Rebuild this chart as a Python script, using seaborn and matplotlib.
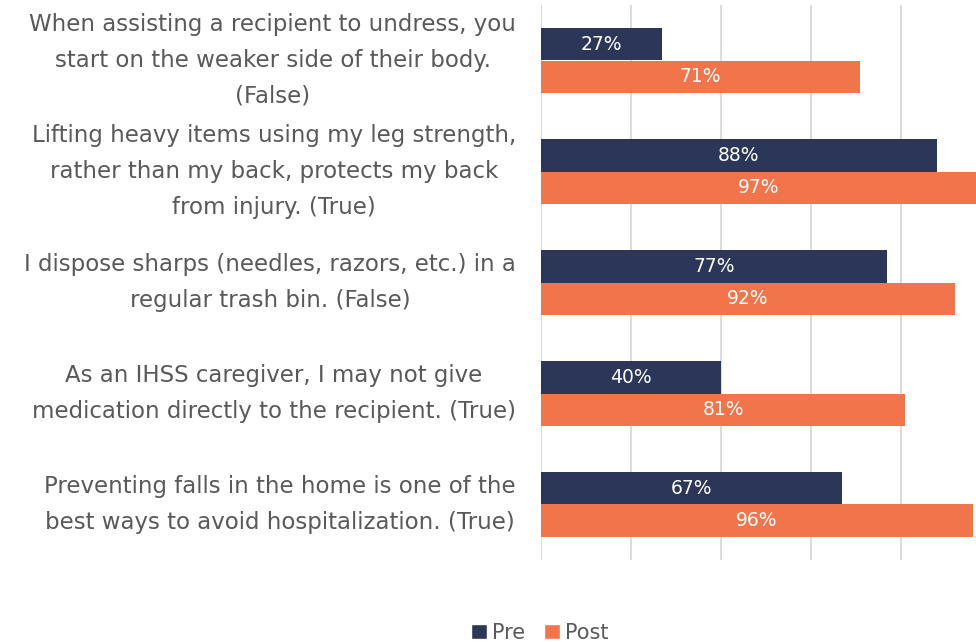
import pandas as pd
import matplotlib.pyplot as plt
import seaborn as sns
from matplotlib.patches import Patch

# Données
questions = [
    "When assisting a recipient to undress, you\nstart on the weaker side of their body.\n(False)",
    "Lifting heavy items using my leg strength,\nrather than my back, protects my back\nfrom injury. (True)",
    "I dispose sharps (needles, razors, etc.) in a\nregular trash bin. (False)",
    "As an IHSS caregiver, I may not give\nmedication directly to the recipient. (True)",
    "Preventing falls in the home is one of the\nbest ways to avoid hospitalization. (True)",
]
pre = [27, 88, 77, 40, 67]
post = [71, 97, 92, 81, 96]
groups = ["Pre", "Post"]
colors = ["#2C3658", "#F2744A"]

df = pd.DataFrame({
    "question": questions * 2,
    "group": ["Pre"] * len(pre) + ["Post"] * len(post),
    "value": pre + post,
})

sns.set_style("white")
plt.rcParams['font.family'] = ['DejaVu Sans']

fig = plt.figure(figsize=(9.76, 6.42), dpi=100)
ax = fig.add_axes([541 / 976, 82 / 642, 1 - 541 / 976, 555 / 642])

sns.barplot(data=df, y="question", x="value", hue="group", hue_order=groups,
            palette=colors, orient="h", width=0.58, saturation=1,
            linewidth=0, legend=False, ax=ax)

for cont in ax.containers:
    ax.bar_label(cont, labels=[f"{v:.0f}%" for v in cont.datavalues],
                 label_type="center", color="white", fontsize=13.5)

ax.set_xlim(0, 96.7)
ax.set_xticks([0, 20, 40, 60, 80])
ax.set_xticklabels([])
ax.grid(axis="x", color="#D9D9D9", linewidth=1.3)
ax.grid(axis="y", visible=False)
ax.set_axisbelow(True)
for s in ax.spines.values():
    s.set_visible(False)
ax.tick_params(axis="both", length=0)
ax.tick_params(axis="y", pad=18)
ax.set_xlabel("")
ax.set_ylabel("")
for lab in ax.get_yticklabels():
    lab.set_multialignment("center")
    lab.set_verticalalignment("center")
    lab.set_fontsize(16.5)
    lab.set_color("#595959")
    lab.set_linespacing(1.72)

handles = [Patch(facecolor=c, label=g) for g, c in zip(groups, colors)]
fig.legend(handles=handles, loc="center", bbox_to_anchor=(540 / 976, 9 / 642),
           ncol=2, frameon=False, fontsize=15, handlelength=0.75, handleheight=0.75,
           handletextpad=0.25, columnspacing=0.9, labelcolor="#595959")

fig.savefig("out.png", dpi=100)
